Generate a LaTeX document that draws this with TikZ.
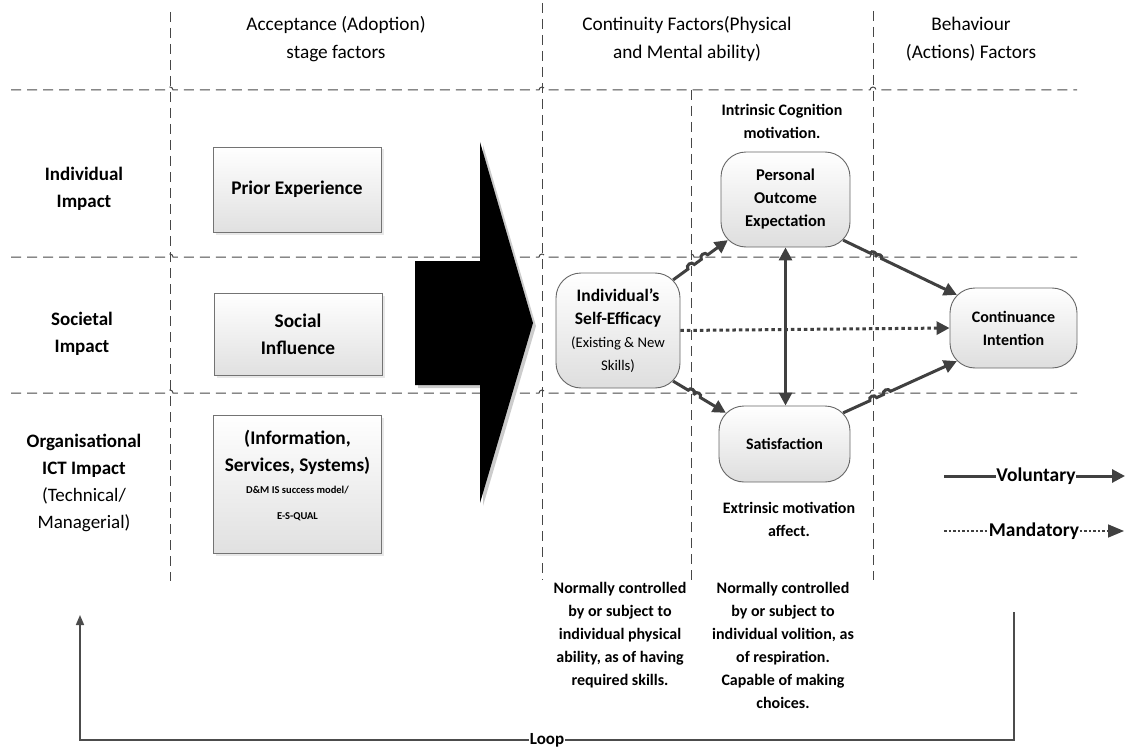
\documentclass[tikz,border=0pt]{standalone}
\usepackage{fontspec}
\setmainfont{Carlito}
\usetikzlibrary{arrows.meta,calc,shadows}

\begin{document}
\begin{tikzpicture}[x=1pt,y=-1pt,
  lane/.style={draw=black!72, line width=1pt, dash pattern=on 10pt off 6pt},
  head/.style={font=\fontsize{19.3}{28}\selectfont, align=center, inner sep=0pt},
  rowlab/.style={font=\bfseries\fontsize{19}{27}\selectfont, align=center, inner sep=0pt},
  sqbox/.style={draw=black!55, line width=0.8pt, top color=white, bottom color=black!12,
    minimum width=168pt, align=center, font=\bfseries\fontsize{19.3}{27}\selectfont,
    drop shadow={opacity=0.18, shadow xshift=2.5pt, shadow yshift=-2.5pt}},
  rbox/.style={draw=black!60, line width=0.9pt, rounded corners=25pt, top color=white,
    bottom color=black!13, align=center, font=\bfseries\fontsize{16}{23}\selectfont, inner sep=0pt},
  note/.style={font=\bfseries\fontsize{16}{23}\selectfont, align=center, inner sep=0pt},
  flow/.style={draw=black!75, line width=3pt, -{Triangle[length=13pt,width=13pt]}},
  hop/.style={bend left=90, looseness=1.5},
  mand/.style={draw=black!75, line width=3pt, dash pattern=on 3.5pt off 3pt, -{Triangle[length=13pt,width=13pt]}},
  thindot/.style={draw=black!75, line width=1.6pt, dash pattern=on 2.5pt off 2pt},
  legend/.style={font=\bfseries\fontsize{19.5}{22}\selectfont, inner sep=0.5pt},
  loopln/.style={draw=black!70, line width=1.5pt},
]
\useasboundingbox (0,0) rectangle (1127,749);

% swim-lane grid, with small jumps where the row lines pass the column lines
\draw[lane] (11,90) -- (167,90) arc (180:360:3) -- (539,90) arc (180:360:3) -- (870,90) arc (180:360:3) -- (1077,90);
\draw[lane] (11,257) -- (167,257) arc (180:360:3) -- (539,257) arc (180:360:3) -- (688,257) arc (180:360:3) -- (870,257) arc (180:360:3) -- (1077,257);
\draw[lane] (11,393) -- (167,393) arc (180:360:3) -- (539,393) arc (180:360:3) -- (688,393) arc (180:360:3) -- (870,393) arc (180:360:3) -- (1077,393);
\draw[lane] (170,12) -- (170,581);
\draw[lane] (542,3) -- (542,580);
\draw[lane] (691,90) -- (691,581);
\draw[lane] (873,11) -- (873,580);

% column headings
\node[head] (hAcc) at (336,39) {Acceptance (Adoption)\\stage factors};
\node[head] (hCon) at (687,39) {Continuity Factors(Physical\\and Mental ability)};
\node[head] (hBeh) at (971,39) {Behaviour\\(Actions) Factors};

% row headings
\node[rowlab] (rInd) at (84,189) {Individual\\Impact};
\node[rowlab] (rSoc) at (82,334) {Societal\\Impact};
\node[rowlab] (rOrg) at (84,482.5) {Organisational\\ICT Impact\\\mdseries(Technical/\\\mdseries Managerial)};

% adoption stage factors
\node[sqbox, minimum height=85pt] (prior) at (297,189.5) {Prior Experience};
\node[sqbox, minimum height=82pt] (social) at (298,334) {Social\\Influence};
\node[sqbox, minimum height=138pt] (info) at (297.5,484) {};
\node[align=center, inner sep=0pt, font=\bfseries\fontsize{19.3}{27}\selectfont] (infotxt) at (297.5,475)
  {(Information,\\Services, Systems)\\[-5pt]\bfseries\fontsize{10.5}{22}\selectfont D\&M IS success model/\\[-1pt]\bfseries\fontsize{10.5}{22}\selectfont E-S-QUAL};

% big transition arrow
\fill[black!20] (418,264) -- (483,264) -- (483,145) -- (536,326) -- (483,506) -- (483,388) -- (418,388) -- cycle;
\fill[black] (415,261) -- (480,261) -- (480,142) -- (533,323) -- (480,503) -- (480,385) -- (415,385) -- cycle;

% continuity and behaviour factors
\node[note] (intr) at (782,121) {Intrinsic Cognition\\motivation.};
\node[rbox, minimum width=129pt, minimum height=95pt, font=\bfseries\fontsize{16.5}{23}\selectfont] (po) at (785.5,199.5) {Personal\\Outcome\\Expectation};
\node[rbox, minimum width=124pt, minimum height=115pt, font=\bfseries\fontsize{17.5}{23.5}\selectfont] (se) at (618,330.5)
  {Individual’s\\Self-Efficacy\\[-1pt]\mdseries\fontsize{14.7}{20}\selectfont (Existing \& New\\\mdseries\fontsize{14.7}{20}\selectfont Skills)};
\node[rbox, minimum width=127pt, minimum height=80pt] (ci) at (1013.5,328) {Continuance\\Intention};
\node[rbox, minimum width=131pt, minimum height=76pt] (sat) at (784.5,444) {Satisfaction};
\node[note] (extr) at (789,519) {Extrinsic motivation\\affect.};

\node[note] (nL) at (620,635) {Normally controlled\\by or subject to\\individual physical\\ability, as of having\\required skills.};
\node[note] (nR) at (783,645.5) {Normally controlled\\by or subject to\\individual volition, as\\of respiration.\\Capable of making\\choices.};

% end points of the relations, on the rounded corners of the boxes
\coordinate (a1) at ($(se.north east)+(-7.3,7.3)$);
\coordinate (b1) at ($(po.south west)+(7.3,-7.3)$);
\coordinate (a2) at ($(se.south east)+(-7.3,-7.3)$);
\coordinate (b2) at ($(sat.north west)+(7.3,7.3)$);
\coordinate (a3) at ($(po.south east)+(-7.3,-7.3)$);
\coordinate (b3) at ($(ci.north west)+(7.3,7.3)$);
\coordinate (a4) at ($(sat.north east)+(-7.3,7.3)$);
\coordinate (b4) at ($(ci.south west)+(7.3,-7.3)$);

% relations, hopping over the lane lines they cross
\draw[flow] (a1) -- ($(a1)!0.271!(b1)$) to[hop] ($(a1)!0.387!(b1)$) -- ($(a1)!0.516!(b1)$) to[hop] ($(a1)!0.632!(b1)$) -- (b1);
\draw[flow] (a2) -- ($(a2)!0.286!(b2)$) to[hop] ($(a2)!0.396!(b2)$) -- ($(a2)!0.405!(b2)$) to[hop] ($(a2)!0.515!(b2)$) -- (b2);
\draw[flow] (a3) -- ($(a3)!0.238!(b3)$) to[hop] ($(a3)!0.287!(b3)$) -- ($(a3)!0.289!(b3)$) to[hop] ($(a3)!0.338!(b3)$) -- (b3);
\draw[flow] (a4) -- ($(a4)!0.234!(b4)$) to[hop] ($(a4)!0.294!(b4)$) -- ($(a4)!0.356!(b4)$) to[hop] ($(a4)!0.416!(b4)$) -- (b4);
\draw[flow, {Triangle[length=13pt,width=13pt]}-{Triangle[length=13pt,width=13pt]}] (po.south) -- (po.south |- sat.north);
\draw[mand] (se.east) -- (ci.west);

% legend
\coordinate (vS) at (944,476);
\node[legend] (vol) at (1036,476) {Voluntary};
\coordinate (vE) at (1125,476);
\draw[draw=black!75, line width=3pt] (vS) -- (vol.west);
\draw[flow] (vol.east) -- (vE);
\coordinate (mS) at (944,531);
\node[legend] (man) at (1034,531) {Mandatory};
\coordinate (mE) at (1124,531);
\draw[thindot] (mS) -- (man.west);
\draw[thindot, -{Triangle[length=16pt,width=13pt]}] (man.east) -- (mE);

% feedback loop
\node[font=\bfseries\fontsize{17}{18}\selectfont, inner sep=0.5pt] (loop) at (547,740) {Loop};
\coordinate (loopR) at (1014,612);
\coordinate (loopL) at (80,615);
\draw[loopln] (loopR) |- (loop.east);
\draw[loopln, -{Triangle[length=10pt,width=8pt]}] (loop.west) -| (loopL);
\end{tikzpicture}
\end{document}
